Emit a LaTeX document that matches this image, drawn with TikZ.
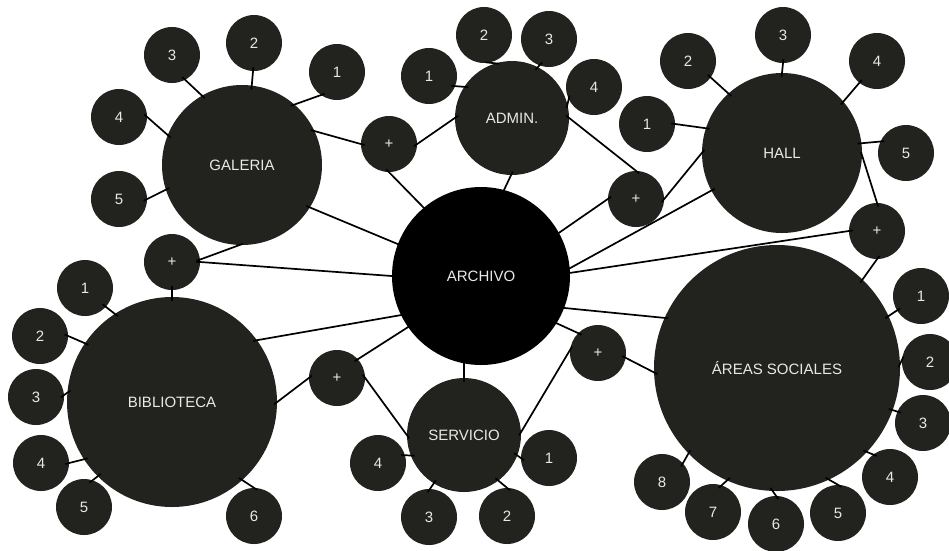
\documentclass[tikz,border=0pt]{standalone}
\usepackage{fontspec}
\setmainfont{Liberation Sans}
\definecolor{dk}{HTML}{22231F}
\definecolor{txt}{HTML}{E8E8E8}
\begin{document}
\begin{tikzpicture}[x=1pt,y=-1pt,
  hub/.style={circle, fill=dk, text=txt, inner sep=0pt, font=\fontsize{15}{15}\selectfont},
  sat/.style={hub, minimum size=56pt},
  link/.style={line width=1.7pt, black, shorten <=-4pt, shorten >=-4pt}]
\useasboundingbox (0,0) rectangle (949,550);
\fill[white] (0,0) rectangle (949,550);
% hubs
\node[hub, fill=black, minimum size=178pt] (arch) at (481,276) {ARCHIVO};
\node[hub, minimum size=160pt] (gal) at (242,165) {GALERIA};
\node[hub, minimum size=114pt] (adm) at (512,118) {ADMIN.};
\node[hub, minimum size=160pt] (hall) at (782,153) {HALL};
\node[hub, minimum size=246pt] (ar) at (777,368) {ÁREAS SOCIALES};
\node[hub, minimum size=210pt] (bib) at (172,402) {BIBLIOTECA};
\node[hub, minimum size=114pt] (ser) at (464,435) {SERVICIO};
% plus nodes
\node[sat] (pa) at (389,144) {+};
\node[sat] (pb) at (636,199) {+};
\node[sat] (pc) at (877,231) {+};
\node[sat] (pd) at (598,353) {+};
\node[sat] (pe) at (337,378) {+};
\node[sat] (pf) at (172,262) {+};
% galeria
\node[sat] (g1) at (337,72) {1};
\node[sat] (g2) at (254,43) {2};
\node[sat] (g3) at (172,55) {3};
\node[sat] (g4) at (119,117) {4};
\node[sat] (g5) at (119,199) {5};
% admin
\node[sat] (a1) at (429,76) {1};
\node[sat] (a2) at (484,35) {2};
\node[sat] (a3) at (549,39) {3};
\node[sat] (a4) at (594,87) {4};
% hall
\node[sat] (h1) at (647,124) {1};
\node[sat] (h2) at (688,61) {2};
\node[sat] (h3) at (783,35) {3};
\node[sat] (h4) at (877,61) {4};
\node[sat] (h5) at (906,153) {5};
% areas
\node[sat] (r1) at (921,296) {1};
\node[sat] (r2) at (930,362) {2};
\node[sat] (r3) at (923,423) {3};
\node[sat] (r4) at (890,477) {4};
\node[sat] (r5) at (838,513) {5};
\node[sat] (r6) at (776,524) {6};
\node[sat] (r7) at (713,512) {7};
\node[sat] (r8) at (662,482) {8};
% biblioteca
\node[sat] (b1) at (85,288) {1};
\node[sat] (b2) at (40,336) {2};
\node[sat] (b3) at (36,397) {3};
\node[sat] (b4) at (41,463) {4};
\node[sat] (b5) at (84,507) {5};
\node[sat] (b6) at (254,516) {6};
% servicio
\node[sat] (s1) at (549,458) {1};
\node[sat] (s2) at (507,516) {2};
\node[sat] (s3) at (429,517) {3};
\node[sat] (s4) at (378,463) {4};
% links
\draw[link] (gal.49)--(g1.235);
\draw[link] (gal.83)--(g2.268);
\draw[link] (gal.120)--(g3.298);
\draw[link] (gal.158)--(g4.0);
\draw[link] (gal.198)--(g5.0);
\draw[link] (gal.25)--(pa.180);
\draw[link] (pa.0)--(adm.180);
\draw[link] (pa.270)--(arch.130);
\draw[link] (adm.269)--(arch.75);
\draw[link] (adm.0)--(pb.90);
\draw[link] (pb.180)--(arch.29);
\draw[link] (pb.0)--(hall.180);
\draw[link] (arch.5)--(hall.208);
\draw[link] (arch.2)--(pc.180);
\draw[link] (hall.-2)--(pc.90);
\draw[link] (pc.270)--(ar.46);
\draw[link] (arch.-21)--(ar.156);
\draw[link] (arch.-32)--(pd.135);
\draw[link] (pd.-10)--(ar.182);
\draw[link] (pd.174)--(ser.3);
\draw[link] (arch.-101)--(ser.90);
\draw[link] (arch.215)--(pe.42);
\draw[link] (pe.0)--(ser.180);
\draw[link] (pe.180)--(bib.0);
\draw[link] (arch.206)--(bib.36);
\draw[link] (pf.0)--(arch.180);
\draw[link] (pf.5)--(gal.268);
\draw[link] (pf.270)--(bib.90);
\draw[link] (gal.-32)--(arch.159);
% admin sats
\draw[link] (adm.147)--(a1.-21);
\draw[link] (adm.107)--(a2.-79);
\draw[link] (adm.63)--(a3.250);
\draw[link] (adm.14)--(a4.206);
% hall sats
\draw[link] (hall.132)--(h2.-36);
\draw[link] (hall.90)--(h3.270);
\draw[link] (hall.40)--(h4.231);
\draw[link] (hall.162)--(h1.0);
\draw[link] (hall.7)--(h5.156);
% areas sats
\draw[link] (ar.25)--(r1.211);
\draw[link] (ar.2)--(r2.176);
\draw[link] (ar.-20)--(r3.156);
\draw[link] (ar.-43)--(r4.127);
\draw[link] (ar.-65)--(r5.90);
\draw[link] (ar.-92)--(r6.90);
\draw[link] (ar.246)--(r7.72);
\draw[link] (ar.224)--(r8.42);
% biblioteca sats
\draw[link] (bib.123)--(b1.-42);
\draw[link] (bib.146)--(b2.0);
\draw[link] (bib.175)--(b3.4);
\draw[link] (bib.213)--(b4.0);
\draw[link] (bib.225)--(b5.72);
\draw[link] (bib.-48)--(b6.90);
% servicio sats
\draw[link] (ser.201)--(s4.16);
\draw[link] (ser.238)--(s3.88);
\draw[link] (ser.-53)--(s2.90);
\draw[link] (ser.-21)--(s1.180);
\end{tikzpicture}
\end{document}
